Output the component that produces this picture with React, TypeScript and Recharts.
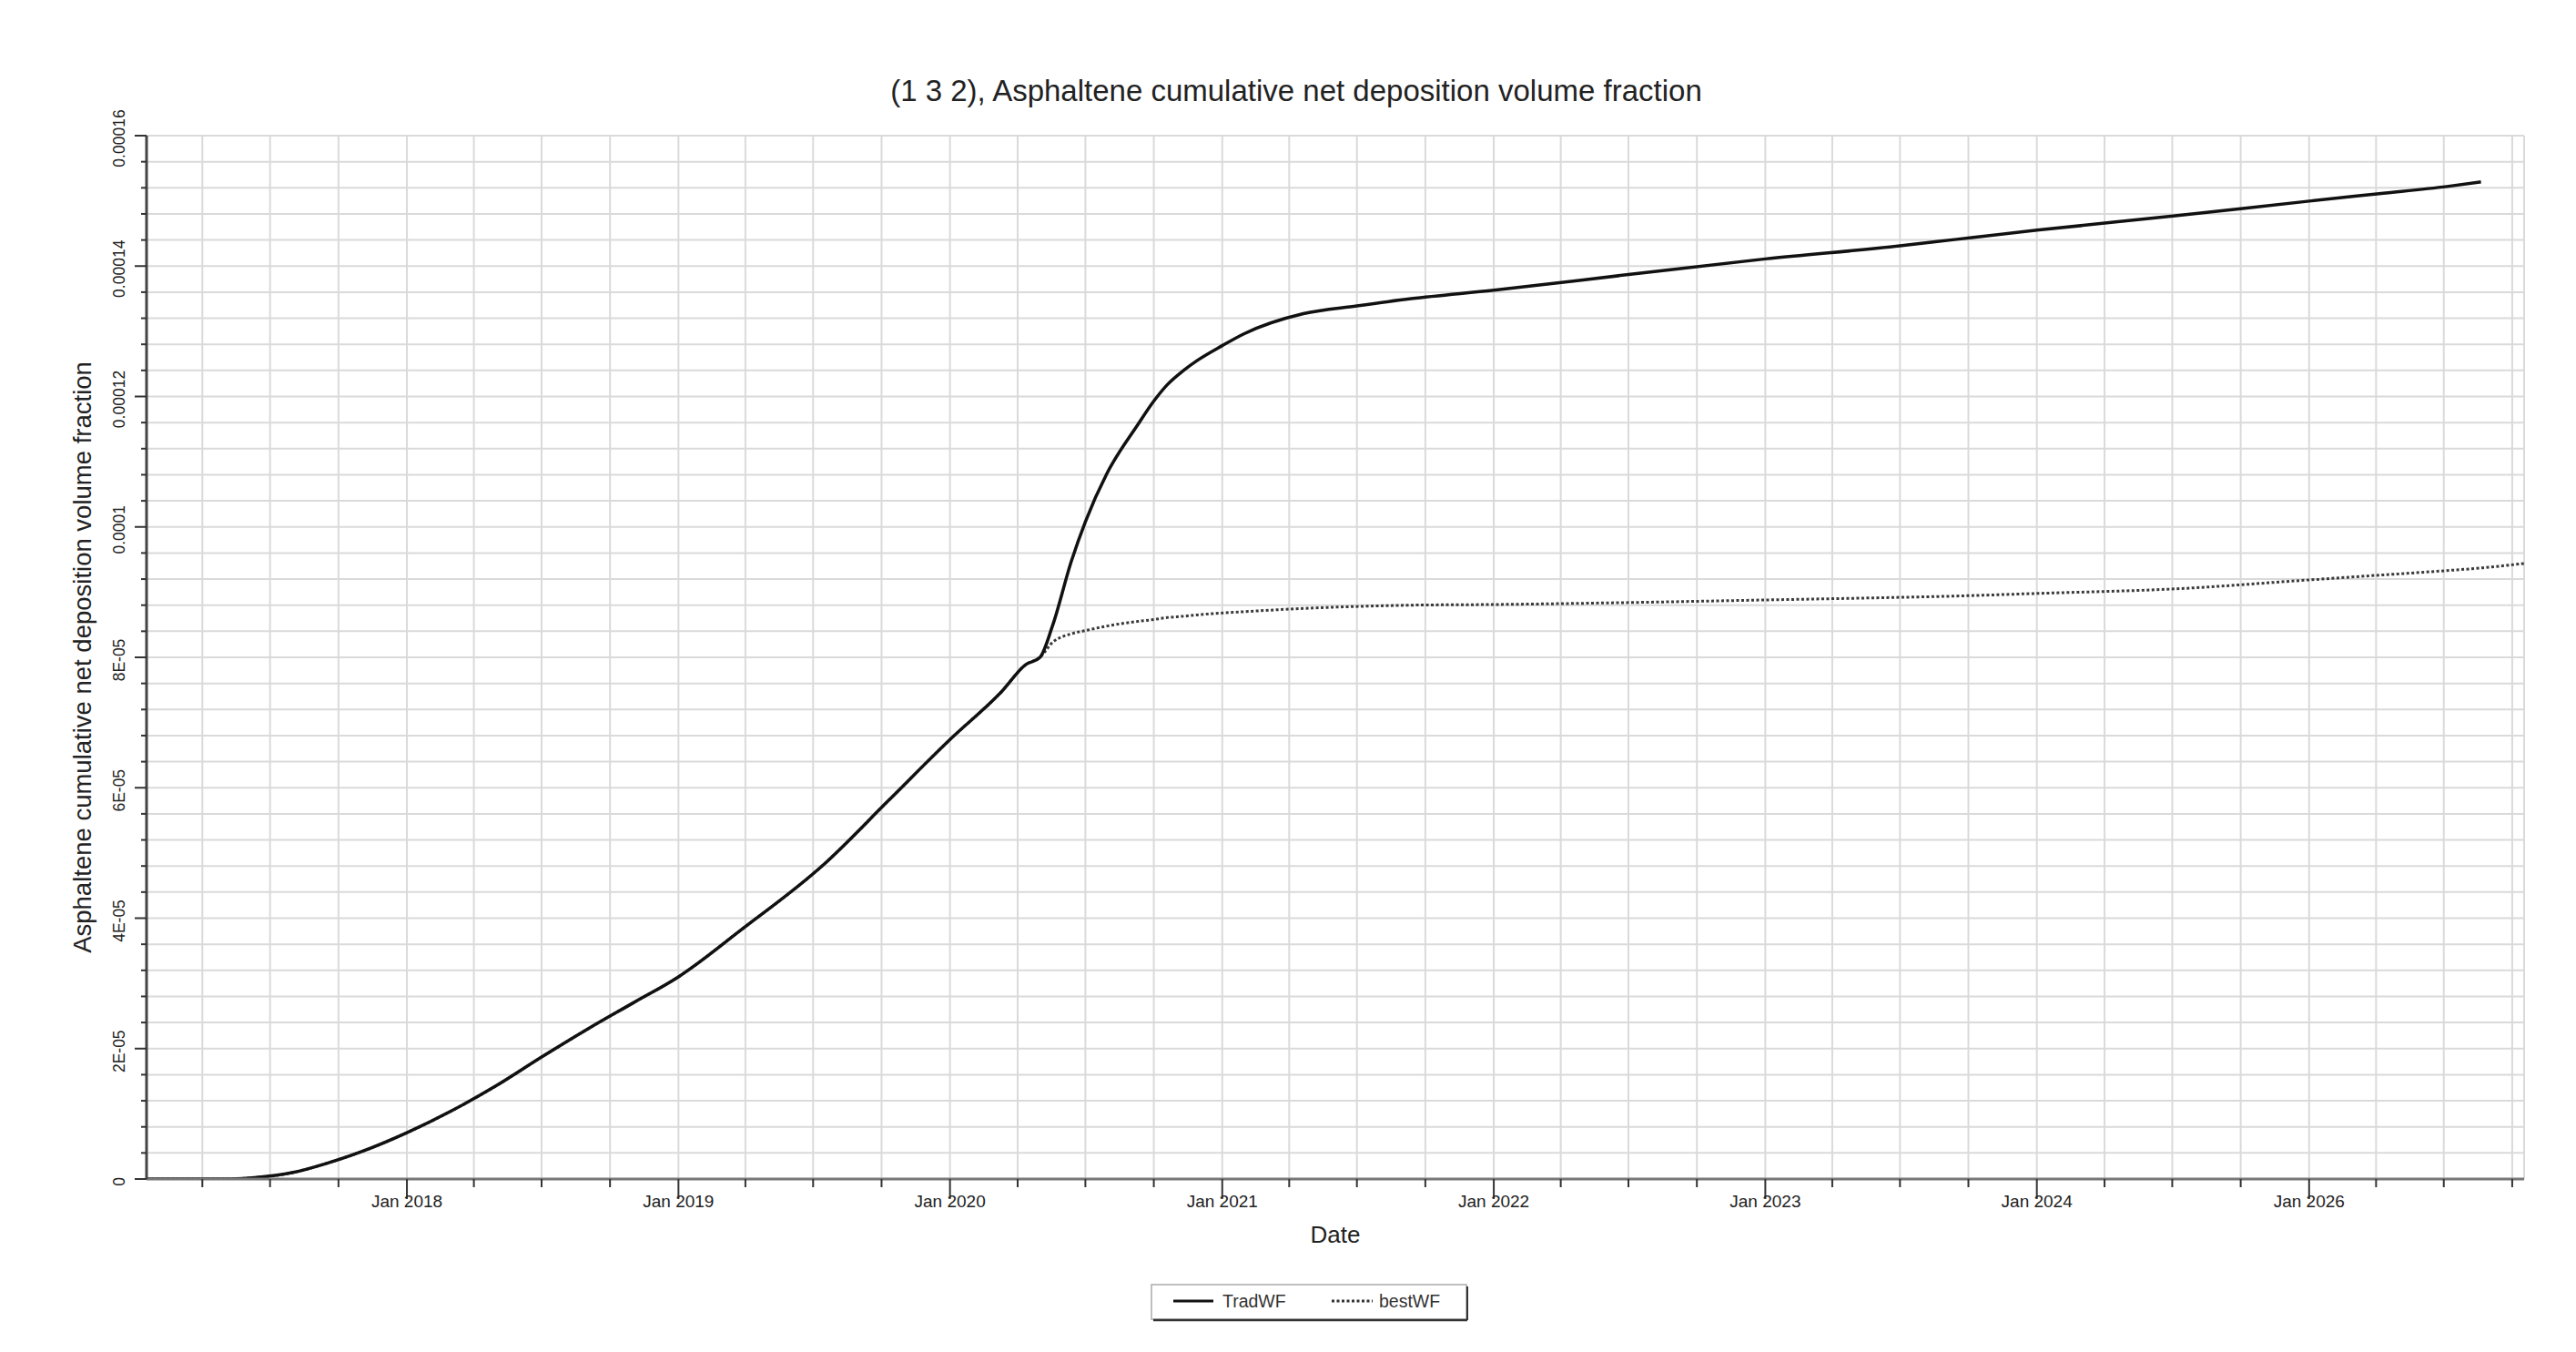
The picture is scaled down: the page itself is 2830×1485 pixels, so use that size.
import React from "react";
import { LineChart, Line, XAxis, YAxis, CartesianGrid } from "recharts";

// sample dates (ISO)
const dates = [
  "2017-01-16", "2017-03-01", "2017-05-01", "2017-06-10", "2017-08-01", "2017-09-15", "2017-11-01",
  "2018-01-01", "2018-03-01", "2018-05-01", "2018-07-01", "2018-09-01", "2018-11-01",
  "2019-01-01", "2019-03-25", "2019-07-15", "2019-10-10",
  "2020-01-01", "2020-03-10", "2020-04-12", "2020-05-01", "2020-05-18", "2020-06-12", "2020-07-01",
  "2020-07-30", "2020-09-09", "2020-10-01", "2020-10-19", "2020-11-10", "2020-11-28", "2021-01-01",
  "2021-01-30", "2021-04-20", "2021-07-01", "2021-09-12",
  "2022-01-01", "2022-07-01", "2023-01-01", "2023-07-01", "2023-09-15",
  "2024-01-01", "2024-07-05", "2025-01-04", "2025-04-05", "2025-07-05", "2025-08-20", "2025-10-17",
];

const tradWF = [
  0, 0, 0, 2e-7, 1.0e-6, 2.4e-6, 4.2e-6,
  7.1e-6, 1.04e-5, 1.43e-5, 1.87e-5, 2.3e-5, 2.7e-5,
  3.1e-5, 3.81e-5, 4.82e-5, 5.8e-5,
  6.74e-5, 7.47e-5, 7.89e-5, 8.0e-5, 8.49e-5, 9.47e-5, 1.008e-4,
  1.082e-4, 1.156e-4, 1.193e-4, 1.218e-4, 1.24e-4, 1.255e-4, 1.278e-4,
  1.296e-4, 1.327e-4, 1.339e-4, 1.35e-4,
  1.363e-4, 1.387e-4, 1.411e-4, 1.431e-4, 1.441e-4,
  1.455e-4, 1.477e-4, 1.5e-4, 1.511e-4, 1.522e-4, 1.529e-4, null,
];

const bestWF = [
  0, 0, 0, 2e-7, 1.0e-6, 2.4e-6, 4.2e-6,
  7.1e-6, 1.04e-5, 1.43e-5, 1.87e-5, 2.3e-5, 2.7e-5,
  3.1e-5, 3.81e-5, 4.82e-5, 5.8e-5,
  6.74e-5, 7.47e-5, 7.89e-5, 8.0e-5, 8.23e-5, 8.36e-5, 8.41e-5,
  8.48e-5, 8.55e-5, 8.58e-5, 8.61e-5, 8.63e-5, 8.65e-5, 8.68e-5,
  8.7e-5, 8.75e-5, 8.78e-5, 8.8e-5,
  8.81e-5, 8.84e-5, 8.88e-5, 8.92e-5, 8.94e-5,
  8.98e-5, 9.05e-5, 9.19e-5, 9.26e-5, 9.33e-5, 9.37e-5, 9.44e-5,
];

const xTickLabels = ["Jan 2018", "Jan 2019", "Jan 2020", "Jan 2021", "Jan 2022", "Jan 2023", "Jan 2024", "Jan 2026"];
const yTickLabels = ["0", "2E-05", "4E-05", "6E-05", "8E-05", "0.0001", "0.00012", "0.00014", "0.00016"];

const FONT = '"Liberation Sans", Arial, sans-serif';
const W = 2830;
const H = 1485;

const data = dates.map((d, i) => ({ t: Date.parse(d), trad: tradWF[i], best: bestWF[i] }));

const xStart = Date.UTC(2017, 0, 16);
const xEnd = Date.UTC(2025, 9, 17);

// quarterly ticks
const xTicks: number[] = [];
for (let yr = 2017; yr <= 2025; yr++) {
  for (let m = 0; m < 12; m += 3) {
    const t = Date.UTC(yr, m, 1);
    if (t > xStart && t <= xEnd) xTicks.push(t);
  }
}

const yTicks = Array.from({ length: 41 }, (_, i) => (i * 4) / 1e6);

function XTick(props: any) {
  const { x, y, payload } = props;
  const d = new Date(payload.value);
  const isJan = d.getUTCMonth() === 0;
  const label = isJan ? xTickLabels[d.getUTCFullYear() - 2018] : null;
  return (
    <g>
      <line x1={x} x2={x} y1={y} y2={y + (isJan ? 22 : 9)} stroke="#333" strokeWidth={2} />
      {label && (
        <text x={x} y={y + 31} textAnchor="middle" fontSize={19} fill="#222" fontFamily={FONT}>
          {label}
        </text>
      )}
    </g>
  );
}

function YTick(props: any) {
  const { x, y, payload } = props;
  const k = Math.round(payload.value / 4e-6);
  const major = k % 5 === 0;
  return (
    <g>
      <line x1={x - (major ? 13 : 6)} x2={x} y1={y} y2={y} stroke="#333" strokeWidth={2} />
      {major && (
        <text
          transform={`translate(${x - 30}, ${y + 3}) rotate(-90)`}
          textAnchor="middle"
          dy="0.35em"
          fontSize={17.5}
          fill="#222"
          fontFamily={FONT}
        >
          {yTickLabels[k / 5]}
        </text>
      )}
    </g>
  );
}

export default function App() {
  return (
    <div style={{ position: "absolute", left: 0, top: 0, width: W, height: H, background: "#fff", fontFamily: FONT }}>
      <div
        style={{
          position: "absolute",
          left: 0,
          top: 81,
          width: 2848,
          textAlign: "center",
          fontSize: 33,
          lineHeight: "38px",
          color: "#222",
        }}
      >
        (1 3 2), Asphaltene cumulative net deposition volume fraction
      </div>

      <LineChart width={W} height={H} data={data} margin={{ top: 149, right: 57, bottom: 0, left: 0 }}>
        <CartesianGrid stroke="#dadada" strokeWidth={2} />
        <XAxis
          dataKey="t"
          type="number"
          domain={[xStart, xEnd]}
          ticks={xTicks}
          interval={0}
          allowDataOverflow
          height={190}
          tickSize={0}
          tickMargin={0}
          tickLine={false}
          tick={<XTick />}
          axisLine={{ stroke: "#777", strokeWidth: 3 }}
          label={{ value: "Date", position: "insideTop", offset: 52, fontSize: 26, fill: "#222", fontFamily: FONT }}
        />
        <YAxis
          type="number"
          domain={[0, 1.6e-4]}
          ticks={yTicks}
          interval={0}
          allowDataOverflow
          width={161}
          tickSize={0}
          tickMargin={0}
          tickLine={false}
          tick={<YTick />}
          axisLine={{ stroke: "#444", strokeWidth: 3 }}
          label={{
            value: "Asphaltene cumulative net deposition volume fraction",
            angle: -90,
            position: "center",
            dx: 10,
            fontSize: 27.5,
            fill: "#222",
            fontFamily: FONT,
          }}
        />
        <Line
          dataKey="best"
          name="bestWF"
          type="monotone"
          stroke="#3a3a3a"
          strokeWidth={3}
          strokeDasharray="3 2.5"
          dot={false}
          isAnimationActive={false}
        />
        <Line
          dataKey="trad"
          name="TradWF"
          type="monotone"
          stroke="#111"
          strokeWidth={3.5}
          dot={false}
          isAnimationActive={false}
        />
      </LineChart>

      <svg style={{ position: "absolute", left: 1264, top: 1410 }} width={352} height={44}>
        <rect x={1} y={1} width={346} height={38} fill="#fff" stroke="#aaa" strokeWidth={1.5} />
        <line x1={3} x2={348} y1={40} y2={40} stroke="#333" strokeWidth={2.5} />
        <line x1={348} x2={348} y1={3} y2={40} stroke="#333" strokeWidth={2} />
        <line x1={25} x2={69} y1={19} y2={19} stroke="#111" strokeWidth={3} />
        <text x={79} y={26} fontSize={19.5} fill="#333" fontFamily={FONT}>TradWF</text>
        <line x1={199} x2={244} y1={19} y2={19} stroke="#333" strokeWidth={3} strokeDasharray="3 2.5" />
        <text x={251} y={26} fontSize={19.5} fill="#333" fontFamily={FONT}>bestWF</text>
      </svg>
    </div>
  );
}
